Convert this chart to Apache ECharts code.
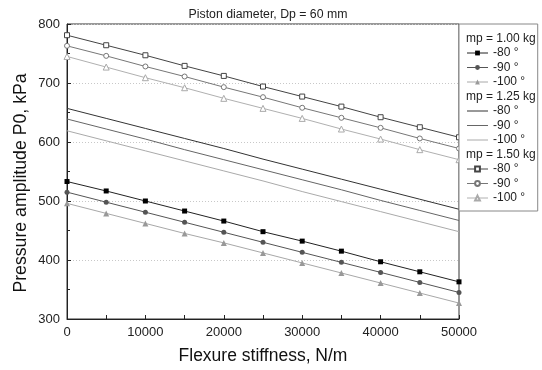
<!DOCTYPE html>
<html>
<head>
<meta charset="utf-8">
<script src="https://cdn.jsdelivr.net/npm/echarts@6/dist/echarts.min.js"></script>
<style>html,body{margin:0;padding:0;background:#fff}#c{width:542px;height:370px}</style>
</head>
<body>
<div id="c"></div>
<script>
const stiffness = [0, 5000, 10000, 15000, 20000, 25000, 30000, 35000, 40000, 45000, 50000];
const m100_80  = [533, 517, 500, 483, 466, 448, 432, 415, 397, 380, 363];
const m100_90  = [515, 498, 481, 464, 447, 430, 413, 396, 379, 362, 345];
const m100_100 = [496, 479, 462, 445, 429, 412, 395, 378, 361, 344, 327];
const m125_80  = [657, 640, 623, 606, 589, 571, 554, 537, 520, 503, 486];
const m125_90  = [639, 622, 605, 587, 570, 553, 536, 519, 501, 484, 467];
const m125_100 = [619, 602, 585, 568, 551, 534, 516, 499, 482, 465, 448];
const m150_80  = [781, 764, 747, 729, 712, 694, 677, 660, 642, 625, 608];
const m150_90  = [763, 746, 728, 711, 693, 676, 658, 641, 624, 606, 589];
const m150_100 = [745, 727, 709, 692, 674, 657, 640, 622, 605, 587, 570];
const headers = ['mp = 1.00 kg', 'mp = 1.25 kg', 'mp = 1.50 kg'];
const angleLabels = ['-80 °', '-90 °', '-100 °'];
const yTicks = {min: 300, max: 800, interval: 100};
const xTicks = {min: 0, max: 50000, interval: 10000};
const yTitle = 'Pressure amplitude P0, kPa';
const xTitle = 'Flexure stiffness, N/m';
const chartTitle = 'Piston diameter, Dp = 60 mm';

const FONT = 'Liberation Sans, Arial, sans-serif';
function pairs(v) { return stiffness.map((x, i) => [x, v[i]]); }

const groups = [
  {h: headers[0], data: [m100_80, m100_90, m100_100], sym: ['rect', 'circle', 'triangle'], open: false, marks: true},
  {h: headers[1], data: [m125_80, m125_90, m125_100], sym: ['none', 'none', 'none'], open: false, marks: false},
  {h: headers[2], data: [m150_80, m150_90, m150_100], sym: ['rect', 'circle', 'triangle'], open: true, marks: true}
];
const lineCols = [['#222', '#555', '#a8a8a8'], ['#333', '#666', '#aaa'], ['#444', '#777', '#b0b0b0']];
const markCols = [['#000', '#555', '#999'], [null, null, null], ['#444', '#777', '#aaa']];

const series = [];
const legendData = [];
const labelMap = {};
groups.forEach((g, gi) => {
  series.push({name: g.h, type: 'line', data: [], symbol: 'none', lineStyle: {width: 0}});
  legendData.push({name: g.h, icon: 'none', textStyle: {padding: [0, 0, 0, -27]}});
  labelMap[g.h] = g.h;
  g.data.forEach((d, k) => {
    const name = g.h + ' ' + angleLabels[k];
    labelMap[name] = angleLabels[k];
    const li = {name: name};
    if (!g.marks) li.itemStyle = {opacity: 0, color: 'transparent', borderColor: 'transparent'};
    legendData.push(li);
    const s = {
      name: name, type: 'line', data: pairs(d),
      symbol: g.sym[k], symbolSize: g.sym[k] === 'triangle' ? 6 : 5,
      showSymbol: g.marks,
      lineStyle: {color: lineCols[gi][k], width: 1},
      color: lineCols[gi][k],
      z: 3
    };
    if (g.marks) {
      if (g.open) {
        s.itemStyle = {color: '#fff', borderColor: markCols[gi][k], borderWidth: 1};
      } else {
        s.itemStyle = {color: markCols[gi][k], borderWidth: 0};
      }
    }
    series.push(s);
  });
});

const chart = echarts.init(document.getElementById('c'), null, {renderer: 'canvas'});
chart.setOption({
  animation: false,
  backgroundColor: '#fff',
  title: {
    text: chartTitle, left: 263, top: 4, textAlign: 'center',
    textStyle: {fontFamily: FONT, fontSize: 12.3, fontWeight: 'normal', color: '#222'}
  },
  graphic: [{
    type: 'text', x: 21, y: 183, rotation: Math.PI / 2,
    style: {text: yTitle, font: '17.7px "Liberation Sans", Arial, sans-serif', fill: '#111', textAlign: 'center', textVerticalAlign: 'middle'}
  }],
  grid: {left: 67, right: 83, top: 24, bottom: 51, show: true, borderColor: '#333', borderWidth: 1, backgroundColor: 'transparent'},
  legend: {
    orient: 'vertical', left: 459, top: 24, width: 79,
    data: legendData,
    formatter: n => labelMap[n],
    itemWidth: 21, itemHeight: 6, itemGap: 2.5,
    padding: [8.5, 2, 7, 7],
    lineStyle: {width: 1},
    backgroundColor: '#fff', borderColor: '#888', borderWidth: 1, borderRadius: 0,
    textStyle: {fontFamily: FONT, fontSize: 12, color: '#222'},
    selectedMode: false
  },
  xAxis: {
    type: 'value', min: xTicks.min, max: xTicks.max, interval: xTicks.interval,
    name: xTitle, nameLocation: 'middle', nameGap: 28,
    nameTextStyle: {fontFamily: FONT, fontSize: 17.5, color: '#111'},
    axisLine: {show: true, lineStyle: {color: '#222', width: 1}},
    axisTick: {show: true, inside: true, length: 4, lineStyle: {color: '#222'}},
    minorTick: {show: true, splitNumber: 2, length: 4, lineStyle: {color: '#222'}},
    axisLabel: {fontFamily: FONT, fontSize: 13, color: '#222', margin: 7, formatter: v => String(v)},
    splitLine: {show: false}
  },
  yAxis: {
    type: 'value', min: yTicks.min, max: yTicks.max, interval: yTicks.interval,
    axisLine: {show: true, lineStyle: {color: '#222', width: 1}},
    axisTick: {show: true, inside: true, length: 4, lineStyle: {color: '#222'}},
    minorTick: {show: true, splitNumber: 2, length: 3, lineStyle: {color: '#222'}},
    axisLabel: {fontFamily: FONT, fontSize: 13, color: '#222', margin: 7},
    splitLine: {show: true, lineStyle: {color: '#c8c8c8', type: [1, 2], width: 1}}
  },
  series: series
});
</script>
</body>
</html>
